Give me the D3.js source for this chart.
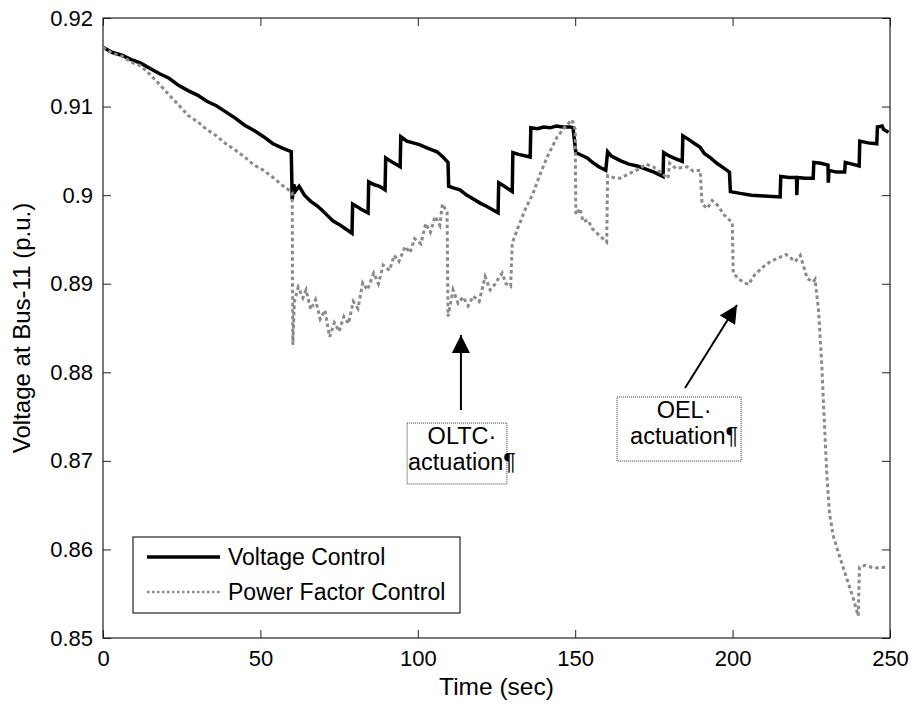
<!DOCTYPE html>
<html>
<head>
<meta charset="utf-8">
<script src="https://cdn.jsdelivr.net/npm/d3@7/dist/d3.min.js"></script>
<style>
  html, body { margin: 0; padding: 0; background: #fff; }
  svg text { font-family: "Liberation Sans", Arial, sans-serif; fill: #000; }
</style>
</head>
<body>
<svg id="chart" width="914" height="707"></svg>
<script>
// ---------- DATA ----------
const xTicks = [0, 50, 100, 150, 200, 250];
const yTicks = [0.85, 0.86, 0.87, 0.88, 0.89, 0.90, 0.91, 0.92];
const yTickLabels = ["0.85", "0.86", "0.87", "0.88", "0.89", "0.9", "0.91", "0.92"];
const seriesNames = ["Voltage Control", "Power Factor Control"];

// Voltage Control [time (s), voltage (p.u.)]
const voltageControl = [
  [0,0.9167],[3,0.9161],[6,0.9158],[9,0.9153],[12,0.9149],[15,0.9143],[18,0.9137],[21,0.9132],
  [24,0.9124],[27,0.9118],[30,0.9113],[33,0.9106],[36,0.9101],[39,0.9094],[42,0.9087],[45,0.9079],
  [48,0.9073],[51,0.9066],[54,0.9058],[57,0.9053],[59.8,0.9049],[60.1,0.8995],[60.6,0.9012],
  [61.2,0.9005],[62.3,0.9010],[64,0.9000],[66,0.8993],[68,0.8988],[69.6,0.8983],[71,0.8978],
  [73,0.8971],[75,0.8967],[77,0.8962],[79.1,0.8957],[79.3,0.8990],[80.7,0.8987],[82,0.8984],
  [84.2,0.8980],[84.4,0.9015],[86,0.9012],[87.8,0.9010],[89.6,0.9006],[89.8,0.9042],[92,0.9037],
  [94.4,0.9032],[94.6,0.9066],[96.5,0.9061],[98.5,0.9059],[100.5,0.9057],[102.5,0.9054],
  [104.5,0.9051],[106.1,0.9049],[108,0.9043],[109.6,0.9037],[109.8,0.9010],[111.5,0.9008],
  [113.4,0.9006],[115.5,0.9000],[117.5,0.8996],[119.8,0.8991],[121.5,0.8988],[123.5,0.8984],
  [125.5,0.8980],[125.7,0.9014],[127.5,0.9010],[130,0.9004],[130.2,0.9048],[132,0.9046],
  [135.7,0.9043],[135.9,0.9076],[138,0.9075],[140,0.9077],[142,0.9076],[144,0.9078],[146,0.9077],
  [148.4,0.9077],[149.3,0.9076],[150.2,0.9048],[152,0.9045],[153.8,0.9042],[155.5,0.9037],
  [157.5,0.9032],[159.7,0.9028],[160.3,0.9049],[161.5,0.9044],[164.3,0.9039],[167,0.9035],
  [169.7,0.9033],[172,0.9030],[175,0.9026],[177.9,0.9021],[178.1,0.9048],[180,0.9044],
  [182,0.9041],[184,0.9038],[184.2,0.9067],[186,0.9063],[188,0.9058],[189.7,0.9054],[191,0.9047],
  [193,0.9042],[195,0.9036],[197,0.9031],[199,0.9026],[199.3,0.9004],[202.4,0.9002],[206,0.9000],
  [210,0.8999],[215.1,0.8998],[215.3,0.9021],[218,0.9020],[220.3,0.9020],[220.4,0.9000],
  [220.6,0.9020],[223,0.9019],[225.6,0.9019],[225.8,0.9037],[228,0.9036],[230.3,0.9034],
  [230.4,0.9014],[230.6,0.9028],[233,0.9026],[235.6,0.9026],[235.8,0.9037],[238,0.9035],
  [240.2,0.9033],[240.4,0.9061],[243,0.9059],[245.8,0.9058],[246,0.9077],[247.5,0.9078],
  [248,0.9074],[249.5,0.9071]
];

// Power Factor Control [time (s), voltage (p.u.)]
const powerFactorControl = [
  [0,0.9167],[3,0.9160],[6,0.9157],[9,0.9150],[12,0.9146],[15,0.9136],[18,0.9125],[21,0.9113],
  [24,0.9102],[27,0.9090],[30,0.9083],[33,0.9074],[36,0.9067],[39,0.9058],[42,0.9051],[45,0.9043],
  [48,0.9034],[51,0.9028],[54,0.9020],[57,0.9011],[60.1,0.9003],[60.3,0.8831],[60.8,0.8880],
  [62,0.8896],[63.5,0.8884],[64.5,0.8893],[66,0.8871],[67.5,0.8882],[69,0.8860],[70.5,0.8870],
  [72,0.8840],[73.5,0.8856],[75,0.8846],[76.5,0.8863],[78,0.8855],[79.5,0.8880],[81,0.8872],
  [82.5,0.8901],[84,0.8893],[86,0.8912],[87.5,0.8900],[89,0.8921],[91,0.8915],[92.5,0.8932],
  [94,0.8925],[96,0.8942],[97.5,0.8935],[99,0.8951],[101,0.8945],[102.5,0.8968],[104,0.8958],
  [105.5,0.8976],[107,0.8966],[107.8,0.8990],[109.3,0.8981],[109.6,0.8863],[111.2,0.8893],
  [112.8,0.8878],[114.4,0.8885],[116,0.8875],[117.6,0.8886],[119.5,0.8880],[121.4,0.8908],
  [123,0.8893],[124.2,0.8898],[126.8,0.8912],[128,0.8900],[129.5,0.8897],[130,0.8946],
  [131.9,0.8964],[134,0.8983],[136.6,0.9002],[139,0.9025],[141.1,0.9043],[144.3,0.9066],
  [147,0.9078],[149,0.9085],[150,0.9074],[150.2,0.8978],[151.5,0.8985],[152.5,0.8970],
  [154,0.8972],[155.5,0.8962],[157.5,0.8955],[160,0.8947],[160.3,0.9022],[162,0.9020],
  [164.3,0.9019],[167,0.9024],[170.6,0.9030],[172.5,0.9035],[174.8,0.9032],[177,0.9026],
  [179.5,0.9019],[180,0.9036],[182,0.9030],[185.6,0.9032],[187.5,0.9027],[189.7,0.9028],
  [190.3,0.8990],[192,0.8985],[193.5,0.8994],[195.1,0.8989],[197.5,0.8977],[199.9,0.8969],
  [200.2,0.8912],[202,0.8905],[205,0.8899],[207,0.8910],[209.7,0.8919],[212,0.8925],
  [215.1,0.8930],[217,0.8933],[219.9,0.8925],[221.5,0.8932],[223.7,0.8906],[225.6,0.8902],
  [226.2,0.8905],[227.3,0.8870],[228.3,0.8810],[229.2,0.8740],[230,0.8680],[230.8,0.8640],
  [232,0.8615],[234,0.8592],[236.2,0.8568],[238.3,0.8545],[239.9,0.8525],[240.3,0.8580],
  [242,0.8582],[245,0.8579],[248.5,0.8580]
];

// Annotations: arrow tail / tip and label box, in data coordinates
const annotationLabels = [["OLTC\u00b7", "actuation\u00b6"], ["OEL\u00b7", "actuation\u00b6"]];
const annotationArrows = [[[113.7, 0.87574], [113.7, 0.88421]], [[184.9, 0.87823], [201.4, 0.88760]]];
const annotationBoxes = [[[96.6, 0.87427], [128.3, 0.86739]], [[163.3, 0.87721], [202.7, 0.86998]]];

// ---------- CHART ----------
const svg = d3.select("#chart");
const L = 103, R = 890, T = 18, B = 638;
const x = d3.scaleLinear().domain([0, 250]).range([L, R]);
const y = d3.scaleLinear().domain([0.85, 0.92]).range([B, T]);

const axisColor = "#222";
const tickLen = 8;

const gx = svg.append("g").attr("transform", `translate(0,${B})`)
  .call(d3.axisBottom(x).tickValues(xTicks).tickSizeInner(-tickLen).tickSizeOuter(0).tickPadding(12));
const gy = svg.append("g").attr("transform", `translate(${L},0)`)
  .call(d3.axisLeft(y).tickValues(yTicks).tickFormat((d, i) => yTickLabels[i])
    .tickSizeInner(-tickLen).tickSizeOuter(0).tickPadding(10));
const gt = svg.append("g").attr("transform", `translate(0,${T})`)
  .call(d3.axisTop(x).tickValues(xTicks).tickSizeInner(-tickLen).tickSizeOuter(0).tickFormat(""));
const gr = svg.append("g").attr("transform", `translate(${R},0)`)
  .call(d3.axisRight(y).tickValues(yTicks).tickSizeInner(-tickLen).tickSizeOuter(0).tickFormat(""));

[gx, gy, gt, gr].forEach(g => {
  g.select(".domain").remove();
  g.selectAll(".tick line").attr("stroke", axisColor).attr("stroke-width", 1);
  g.selectAll(".tick text").attr("font-size", 22).attr("fill", "#000")
    .attr("font-family", "'Liberation Sans', Arial, sans-serif");
});
svg.append("rect").attr("x", L).attr("y", T).attr("width", R - L).attr("height", B - T)
  .attr("fill", "none").attr("stroke", axisColor).attr("stroke-width", 1.2);

// axis titles
svg.append("text").attr("x", (L + R) / 2).attr("y", 695).attr("text-anchor", "middle")
  .attr("font-size", 24.5).text("Time (sec)");
svg.append("text").attr("transform", `translate(30,${(T + B) / 2}) rotate(-90)`)
  .attr("text-anchor", "middle").attr("font-size", 24).text("Voltage at Bus-11 (p.u.)");

svg.append("clipPath").attr("id", "plotclip").append("rect")
  .attr("x", L).attr("y", T).attr("width", R - L).attr("height", B - T);

const line = d3.line().x(d => x(d[0])).y(d => y(d[1]));
const plot = svg.append("g").attr("clip-path", "url(#plotclip)");

plot.append("path").datum(voltageControl).attr("d", line)
  .attr("fill", "none").attr("stroke", "#000").attr("stroke-width", 3.5)
  .attr("stroke-linejoin", "miter").attr("stroke-linecap", "butt");
plot.append("path").datum(powerFactorControl).attr("d", line)
  .attr("fill", "none").attr("stroke", "#8a8a8a").attr("stroke-width", 3)
  .attr("stroke-dasharray", "3.5,3").attr("stroke-linejoin", "miter");

// annotations
const defs = svg.append("defs");
defs.append("marker").attr("id", "arrowhead").attr("viewBox", "0 0 10 10")
  .attr("refX", 10).attr("refY", 5).attr("markerWidth", 18).attr("markerHeight", 18)
  .attr("markerUnits", "userSpaceOnUse").attr("orient", "auto")
  .append("path").attr("d", "M0,0 L10,5 L0,10 Z").attr("fill", "#000");

annotationArrows.forEach(a => {
  svg.append("line")
    .attr("x1", x(a[0][0])).attr("y1", y(a[0][1]))
    .attr("x2", x(a[1][0])).attr("y2", y(a[1][1]))
    .attr("stroke", "#000").attr("stroke-width", 2)
    .attr("marker-end", "url(#arrowhead)");
});

annotationBoxes.forEach((b, i) => {
  const x0 = x(b[0][0]), y0 = y(b[0][1]), x1 = x(b[1][0]), y1 = y(b[1][1]);
  svg.append("rect").attr("x", x0).attr("y", y0).attr("width", x1 - x0).attr("height", y1 - y0)
    .attr("fill", "#fff").attr("stroke", "#333").attr("stroke-width", 1).attr("stroke-dasharray", "1,1");
  const cx = (x0 + x1) / 2 + 5;
  svg.append("text").attr("x", cx).attr("y", y0 + 21).attr("text-anchor", "middle")
    .attr("font-size", 23.5).text(annotationLabels[i][0]);
  svg.append("text").attr("x", cx).attr("y", y0 + 47).attr("text-anchor", "middle")
    .attr("font-size", 23.5).text(annotationLabels[i][1]);
});

// legend
const lg = svg.append("g");
lg.append("rect").attr("x", 133).attr("y", 537).attr("width", 327).attr("height", 76)
  .attr("fill", "#fff").attr("stroke", axisColor).attr("stroke-width", 1.2);
const legendStyles = [
  { stroke: "#000", width: 3.5, dash: null },
  { stroke: "#8a8a8a", width: 2.5, dash: "2.5,2.5" }
];
seriesNames.forEach((name, i) => {
  const yy = 557 + i * 35;
  const ln = lg.append("line").attr("x1", 147).attr("x2", 220).attr("y1", yy).attr("y2", yy)
    .attr("stroke", legendStyles[i].stroke).attr("stroke-width", legendStyles[i].width);
  if (legendStyles[i].dash) ln.attr("stroke-dasharray", legendStyles[i].dash);
  lg.append("text").attr("x", 228).attr("y", yy + 8).attr("font-size", 23).text(name);
});
</script>
</body>
</html>
